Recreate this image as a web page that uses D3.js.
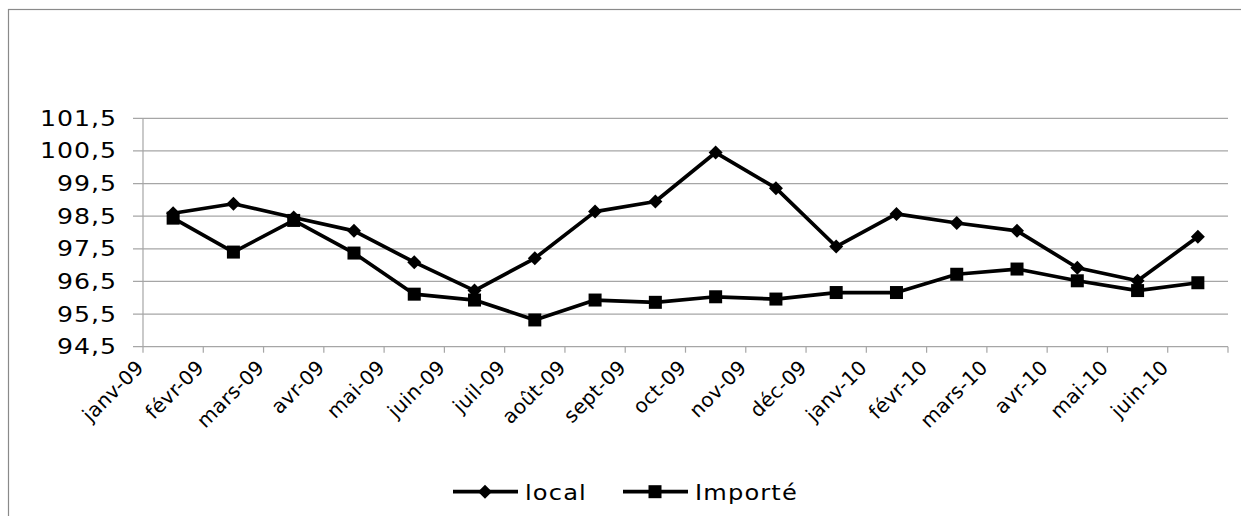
<!DOCTYPE html>
<html><head><meta charset="utf-8">
<script src="https://cdn.jsdelivr.net/npm/d3@7"></script>
<style>body{margin:0;background:#fff}svg{display:block}</style>
</head><body>
<svg id="c" width="1241" height="516"></svg>
<script>
const categories = ["janv-09","févr-09","mars-09","avr-09","mai-09","juin-09","juil-09","août-09","sept-09","oct-09","nov-09","déc-09","janv-10","févr-10","mars-10","avr-10","mai-10","juin-10"];
const localValues = [98.59,98.88,98.46,98.05,97.09,96.22,97.21,98.64,98.95,100.45,99.36,97.57,98.57,98.29,98.05,96.92,96.52,97.87];
const importeValues = [98.44,97.40,98.37,97.37,96.11,95.93,95.32,95.93,95.86,96.03,95.96,96.16,96.16,96.72,96.88,96.52,96.22,96.46];
const yTicks = [94.5,95.5,96.5,97.5,98.5,99.5,100.5,101.5];
const seriesNames = ["local","Importé"];

const svg = d3.select("#c");
const L = 143, R = 1228, T = 118.3, B = 346.7;
const x = d3.scaleBand().domain(categories).range([L, R]);
const y = d3.scaleLinear().domain([94.5, 101.5]).range([B, T]);
const FONT = "DejaVu Sans";

// chart border (only top/left visible)
svg.append("rect").attr("x", 8.5).attr("y", 9.5).attr("width", 1300).attr("height", 600)
  .attr("fill", "none").attr("stroke", "#8a8a8a").attr("stroke-width", 1.2);

// gridlines
svg.append("g").selectAll("line").data(yTicks).join("line")
  .attr("x1", L - 10).attr("x2", R).attr("y1", d => y(d)).attr("y2", d => y(d))
  .attr("stroke", "#a6a6a6").attr("stroke-width", 1.2);

// y labels
svg.append("g").selectAll("text").data(yTicks).join("text")
  .attr("transform", d => `translate(117,${y(d) + 7.5}) scale(1.2,1)`).attr("text-anchor", "end")
  .attr("font-family", FONT).attr("font-size", 21).attr("letter-spacing", 0.8)
  .attr("fill", "#000").text(d => d3.format(".1f")(d).replace(".", ","));

// y axis line
svg.append("line").attr("x1", L).attr("x2", L).attr("y1", T).attr("y2", B)
  .attr("stroke", "#a6a6a6").attr("stroke-width", 1.2);

// x ticks
const tickXs = categories.map(c => x(c)).concat([R]);
svg.append("g").selectAll("line").data(tickXs).join("line")
  .attr("x1", d => d).attr("x2", d => d).attr("y1", B).attr("y2", B + 6)
  .attr("stroke", "#a6a6a6").attr("stroke-width", 1.2);

// x labels
svg.append("g").selectAll("text").data(categories).join("text")
  .attr("transform", d => `translate(${x(d) + 2},${B + 22}) rotate(-45)`)
  .attr("text-anchor", "end")
  .attr("font-family", FONT).attr("font-size", 20).attr("letter-spacing", 0.3)
  .attr("fill", "#000").text(d => d);

const cx = d => x(d) + x.bandwidth() / 2;
const line = d3.line().x((d, i) => cx(categories[i])).y(d => y(d));

function marker(g, shape, px, py) {
  if (shape === "diamond") {
    g.append("path").attr("d", `M${px},${py - 7}L${px + 7},${py}L${px},${py + 7}L${px - 7},${py}Z`).attr("fill", "#000");
  } else {
    g.append("rect").attr("x", px - 6.5).attr("y", py - 6.5).attr("width", 13).attr("height", 13).attr("fill", "#000");
  }
}

function drawSeries(vals, shape) {
  svg.append("path").datum(vals).attr("d", line).attr("fill", "none")
    .attr("stroke", "#000").attr("stroke-width", 3.7).attr("stroke-linejoin", "round");
  const g = svg.append("g");
  vals.forEach((v, i) => marker(g, shape, cx(categories[i]), y(v)));
}
drawSeries(localValues, "diamond");
drawSeries(importeValues, "square");

// legend
const ly = 491.7;
const leg = svg.append("g");
[[453, 518, 485, 525, "diamond"], [623, 688, 655, 695, "square"]].forEach((p, i) => {
  leg.append("line").attr("x1", p[0]).attr("x2", p[1]).attr("y1", ly).attr("y2", ly)
    .attr("stroke", "#000").attr("stroke-width", 3.7);
  marker(leg, p[4], p[2], ly);
  leg.append("text").attr("transform", `translate(${p[3]},${ly + 7.8}) scale(1.15,1)`)
    .attr("font-family", FONT).attr("font-size", 21).attr("letter-spacing", 1)
    .attr("fill", "#000").text(seriesNames[i]);
});
</script>
</body></html>
